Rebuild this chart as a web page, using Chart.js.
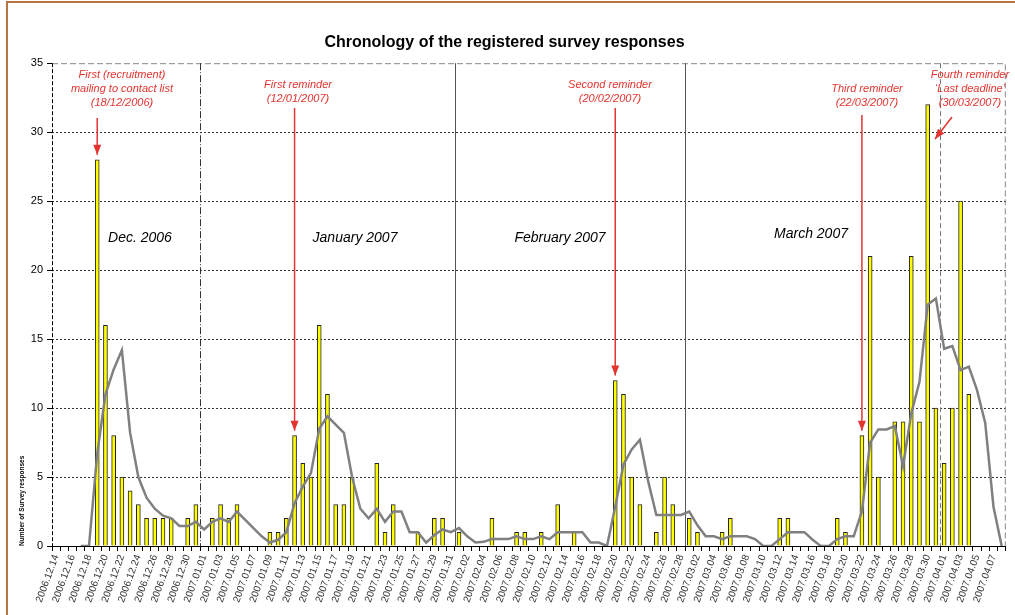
<!DOCTYPE html>
<html>
<head>
<meta charset="utf-8">
<title>Chronology of the registered survey responses</title>
<script src="https://cdn.jsdelivr.net/npm/chart.js@4.4.1/dist/chart.umd.min.js"></script>
<style>
  html, body { margin: 0; padding: 0; background: #fff; }
  #wrap { position: relative; width: 1015px; height: 615px; }
</style>
</head>
<body>
<div id="wrap"><canvas id="surveyChart"></canvas></div>
<script>
// One category per day, 14 Dec 2006 .. 8 Apr 2007
const firstDay = new Date(2006, 11, 14);
const dayCount = 116;
const days = [];
for (let i = 0; i < dayCount; i++) {
    const d = new Date(firstDay.getFullYear(), firstDay.getMonth(), firstDay.getDate() + i);
    days.push(d.getFullYear() + '.' + String(d.getMonth() + 1).padStart(2, '0') + '.' + String(d.getDate()).padStart(2, '0'));
}

// Registered responses per day (bars)
const responses = [
    0, 0, 0, 0, 0, 28, 16, 8, 5, 4, 3, 2, 2, 2, 2, 0, 2, 3,            // Dec 14-31
    0, 2, 3, 2, 3, 0, 0, 0, 1, 1, 2, 8, 6, 5, 16, 11, 3, 3, 5, 0, 0,   // Jan 1-21
    6, 1, 3, 0, 0, 1, 0, 2, 2, 0,                                       // Jan 22-31
    1, 0, 0, 0, 2, 0, 0, 1, 1, 0, 1, 0, 3, 0, 1, 0, 0, 0, 0,            // Feb 1-19
    12, 11, 5, 3, 0, 1, 5, 3, 0,                                        // Feb 20-28
    2, 1, 0, 0, 1, 2, 0, 0, 0, 0, 0, 2, 2, 0, 0, 0, 0, 0, 2, 1, 0,      // Mar 1-21
    8, 21, 5, 0, 9, 9, 21, 9, 32, 10,                                   // Mar 22-31
    6, 10, 25, 11, 0, 0, 0, 0                                           // Apr 1-8
];

// Smoothed trend (grey line)
const trend = [
    null, null, null, 0, 0, 6.7, 11, 12.8, 14.2, 8.2, 5, 3.5, 2.7, 2.2, 2.0, 1.45, 1.45, 1.75,
    1.2, 1.75, 2.0, 1.75, 2.5, 1.9, 1.3, 0.7, 0.25, 0.45, 1.0, 3.1, 4.3, 5.3, 8.5, 9.4, 8.8, 8.2, 5.0, 2.7, 2.0,
    2.7, 1.75, 2.5, 2.5, 1.0, 1.0, 0.25, 0.8, 1.2, 1.0,
    1.3, 0.7, 0.25, 0.3, 0.5, 0.5, 0.5, 0.7, 0.5, 0.5, 0.7, 0.5, 1.0, 1.0, 1.0, 1.0, 0.25, 0.25, 0,
    2.85, 5.9, 7.0, 7.7, 4.7, 2.25, 2.25, 2.25, 2.25,
    2.5, 1.5, 0.7, 0.7, 0.5, 0.7, 0.7, 0.7, 0.5, 0, 0, 0.5, 1.0, 1.0, 1.0, 0.45, 0, 0, 0.5, 0.7, 0.7,
    2.5, 7.5, 8.45, 8.45, 8.7, 5.8, 9.6, 11.9, 17.5, 17.95,
    14.3, 14.5, 12.75, 13.0, 11.3, 8.9, 2.85, 0
];

const yMax = 35;
const yStep = 5;

const months = ['Dec. 2006', 'January 2007', 'February 2007', 'March 2007'];
const monthStarts = [18, 49, 77, 108]; // first day of Jan, Feb, Mar, Apr

const reminders = [
    { day: 5, lines: ['First (recruitment)', 'mailing to contact list', '(18/12/2006)'] },
    { day: 29, lines: ['First reminder', '(12/01/2007)'] },
    { day: 68, lines: ['Second reminder', '(20/02/2007)'] },
    { day: 98, lines: ['Third reminder', '(22/03/2007)'] },
    { day: 106, lines: ['Fourth reminder', '\u2018Last deadline\u2019', '(30/03/2007)'] }
];

Chart.defaults.font.family = '"Liberation Sans", Arial, sans-serif';

function drawArrow(ctx, x1, y1, x2, y2) {
    ctx.beginPath();
    ctx.moveTo(x1, y1);
    ctx.lineTo(x2, y2);
    ctx.stroke();
    const a = Math.atan2(y2 - y1, x2 - x1);
    const len = 10, half = 4;
    ctx.beginPath();
    ctx.moveTo(x2, y2);
    ctx.lineTo(x2 - len * Math.cos(a) + half * Math.sin(a), y2 - len * Math.sin(a) - half * Math.cos(a));
    ctx.lineTo(x2 - len * Math.cos(a) - half * Math.sin(a), y2 - len * Math.sin(a) + half * Math.cos(a));
    ctx.closePath();
    ctx.fill();
}

// frame, month separators, plot border, labels and reminder arrows
const decorations = {
    id: 'decorations',
    beforeDraw(chart) {
        const ctx = chart.ctx;
        ctx.save();
        ctx.strokeStyle = '#b8763e';
        ctx.lineWidth = 2;
        ctx.beginPath();
        ctx.moveTo(7, chart.height);
        ctx.lineTo(7, 2);
        ctx.lineTo(chart.width, 2);
        ctx.stroke();
        ctx.restore();
    },
    beforeDatasetsDraw(chart) {
        const ctx = chart.ctx;
        const area = chart.chartArea;
        const x = chart.scales.x;
        ctx.save();
        ctx.lineWidth = 1;

        // plot border (top + right)
        ctx.strokeStyle = '#888';
        ctx.setLineDash([6, 3]);
        ctx.beginPath();
        ctx.moveTo(area.left, area.top + 0.5);
        ctx.lineTo(area.right - 0.5, area.top + 0.5);
        ctx.lineTo(area.right - 0.5, area.bottom);
        ctx.stroke();

        // month separators
        const sepStyles = [
            { color: '#333', dash: [7, 2, 1, 2] },
            { color: '#555', dash: [] },
            { color: '#555', dash: [] },
            { color: '#777', dash: [5, 3] }
        ];
        monthStarts.forEach((d, i) => {
            const px = Math.round((x.getPixelForValue(d - 1) + x.getPixelForValue(d)) / 2) + 0.5;
            ctx.strokeStyle = sepStyles[i].color;
            ctx.setLineDash(sepStyles[i].dash);
            ctx.beginPath();
            ctx.moveTo(px, area.top);
            ctx.lineTo(px, area.bottom);
            ctx.stroke();
        });

        // dashed y axis line
        ctx.strokeStyle = '#000';
        ctx.setLineDash([4, 2]);
        ctx.beginPath();
        ctx.moveTo(area.left + 0.5, area.top);
        ctx.lineTo(area.left + 0.5, area.bottom);
        ctx.stroke();
        ctx.restore();
    },
    afterDatasetsDraw(chart) {
        const ctx = chart.ctx;
        const x = chart.scales.x;
        const y = chart.scales.y;
        ctx.save();

        // month names
        ctx.fillStyle = '#000';
        ctx.font = 'italic 14px "Liberation Sans", Arial, sans-serif';
        ctx.textAlign = 'center';
        ctx.textBaseline = 'middle';
        const monthPos = [[140, 238], [355, 238], [560, 238], [811, 234]];
        months.forEach((m, i) => ctx.fillText(m, monthPos[i][0], monthPos[i][1]));

        // reminders
        const notePos = [
            { cx: 122, ty: 75, from: [null, 118] },
            { cx: 298, ty: 85, from: [null, 108] },
            { cx: 610, ty: 85, from: [null, 108] },
            { cx: 867, ty: 89, from: [null, 115] },
            { cx: 970, ty: 75, from: [952, 117], to: [935, 139] }
        ];
        ctx.font = 'italic 11px "Liberation Sans", Arial, sans-serif';
        ctx.fillStyle = '#e3342f';
        ctx.strokeStyle = '#e3342f';
        ctx.lineWidth = 1.5;
        reminders.forEach((r, i) => {
            const p = notePos[i];
            r.lines.forEach((t, k) => ctx.fillText(t, p.cx, p.ty + k * 14.2));
            const bx = x.getPixelForValue(r.day);
            const tipY = y.getPixelForValue(responses[r.day]) - 5;
            const x1 = p.from[0] !== null ? p.from[0] : bx;
            const x2 = p.to ? p.to[0] : bx;
            const y2 = p.to ? p.to[1] : tipY;
            drawArrow(ctx, x1, p.from[1], x2, y2);
        });

        ctx.restore();
    }
};

const ctx = document.getElementById('surveyChart').getContext('2d');

const surveyChart = new Chart(ctx, {
    type: 'bar',
    data: {
        labels: days,
        datasets: [{
            type: 'line',
            label: 'Trend',
            data: trend,
            borderColor: '#808080',
            borderWidth: 2.5,
            pointRadius: 0,
            tension: 0,
            order: 0
        }, {
            label: 'Responses',
            data: responses,
            backgroundColor: '#ffff00',
            borderColor: '#222',
            borderWidth: 1,
            barThickness: 4,
            order: 1
        }]
    },
    options: {
        responsive: true,
        maintainAspectRatio: false,
        animation: false,
        layout: { padding: { top: 0, right: 6, bottom: 0, left: 0 } },
        plugins: {
            legend: { display: false },
            tooltip: { enabled: false },
            title: {
                display: true,
                text: 'Chronology of the registered survey responses',
                color: '#000',
                font: { size: 16, weight: 'bold' },
                padding: { top: 33, bottom: 11 }
            }
        },
        scales: {
            x: {
                offset: true,
                grid: {
                    offset: true,
                    drawOnChartArea: false,
                    drawTicks: true,
                    tickLength: 5,
                    color: '#000'
                },
                border: { color: '#000', width: 1 },
                ticks: {
                    autoSkip: false,
                    maxRotation: 70,
                    minRotation: 70,
                    padding: 2,
                    color: '#333',
                    font: { size: 10 },
                    callback: (value, index) => index % 2 === 0 ? days[index] : ''
                },
                afterFit: scale => { scale.height = 69; }
            },
            y: {
                min: 0,
                max: yMax,
                ticks: {
                    stepSize: yStep,
                    color: '#000',
                    padding: 4,
                    font: { size: 11 }
                },
                grid: {
                    color: c => c.tick && c.tick.value === yMax ? 'rgba(0,0,0,0)' : '#333',
                    tickColor: '#000',
                    tickLength: 5
                },
                border: { display: false, dash: [2, 2] },
                title: {
                    display: true,
                    text: 'Number of Survey responses',
                    align: 'start',
                    color: '#000',
                    font: { size: 6.5, weight: 'bold' },
                    padding: { top: 18, bottom: 0 }
                },
                afterFit: scale => { scale.width = 52; }
            }
        }
    },
    plugins: [decorations]
});
</script>
</body>
</html>
